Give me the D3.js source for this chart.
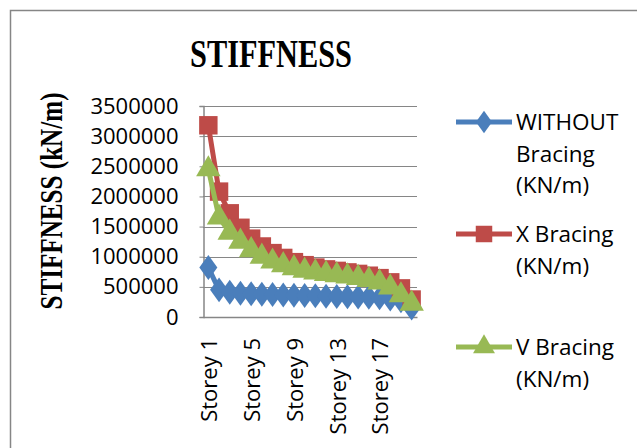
<!DOCTYPE html>
<html>
<head>
<meta charset="utf-8">
<script src="https://cdn.jsdelivr.net/npm/d3@7"></script>
<style>
  body { margin: 0; background: #fff; }
  svg { display: block; }
</style>
</head>
<body>
<svg id="chart"></svg>
<script>
const storeys = d3.range(1, 21).map(i => "Storey " + i);
const withoutBracing = [820000, 450000, 410000, 395000, 385000, 378000, 372000, 366000, 361000, 356000,
    351000, 346000, 341000, 336000, 331000, 326000, 320000, 300000, 270000, 150000];
const xBracing = [3180000, 2080000, 1720000, 1480000, 1300000, 1170000, 1060000, 980000, 910000, 860000,
    820000, 790000, 765000, 740000, 715000, 685000, 645000, 575000, 475000, 290000];
const vBracing = [2450000, 1650000, 1400000, 1250000, 1110000, 1000000, 920000, 860000, 810000, 770000,
    740000, 715000, 695000, 672000, 648000, 615000, 572000, 490000, 360000, 220000];
const yTicks = [0, 500000, 1000000, 1500000, 2000000, 2500000, 3000000, 3500000];
const seriesNames = ["WITHOUT Bracing (KN/m)", "X Bracing (KN/m)", "V Bracing (KN/m)"];

const [W, H] = [637, 448];
const plot = { left: 203, top: 106, right: 417, bottom: 317 };
const labelFont = "'Open Sans', sans-serif";
const titleFont = "'Liberation Serif', 'Times New Roman', serif";

const svg = d3.select("#chart").attr("width", W).attr("height", H);

// outer chart frame
svg.append("rect")
    .attr("x", 10.5).attr("y", 10.5)
    .attr("width", W + 20).attr("height", H + 20)
    .attr("fill", "#fff").attr("stroke", "#868686").attr("stroke-width", 1.5);

const xScale = d3.scaleBand().domain(storeys).range([plot.left, plot.right]);
const yScale = d3.scaleLinear().domain([0, 3500000]).range([plot.bottom, plot.top]);

// grid lines
svg.append("g")
    .selectAll("line")
    .data(yTicks.slice(1))
    .join("line")
    .attr("x1", plot.left).attr("x2", plot.right)
    .attr("y1", d => Math.round(yScale(d)) + 0.5).attr("y2", d => Math.round(yScale(d)) + 0.5)
    .attr("stroke", "#868686").attr("stroke-width", 1);

// y axis
const yAxis = d3.axisLeft(yScale).tickValues(yTicks).tickSize(4).tickPadding(4).tickFormat(d3.format("d"));
const yg = svg.append("g")
    .attr("transform", `translate(${plot.left + 0.5},0)`)
    .call(yAxis);
yg.select(".domain").attr("stroke", "#868686").attr("stroke-width", 1.5);
yg.selectAll(".tick line").attr("stroke", "#868686");
yg.selectAll(".tick text")
    .attr("font-family", labelFont)
    .attr("font-size", 22).attr("fill", "#000").attr("x", -25);

// x axis
const xAxis = d3.axisBottom(xScale)
    .tickValues(storeys.filter((d, i) => i % 4 === 0))
    .tickSize(0).tickPadding(0);
const xg = svg.append("g")
    .attr("transform", `translate(0,${plot.bottom})`)
    .call(xAxis);
xg.select(".domain").attr("stroke", "#868686").attr("stroke-width", 1.5);
xg.selectAll(".tick text")
    .attr("font-family", labelFont)
    .attr("font-size", 22).attr("fill", "#000")
    .attr("transform", "rotate(-90)")
    .attr("text-anchor", "end")
    .attr("x", -21).attr("y", 0).attr("dy", "0.4em");

// titles
svg.append("text")
    .attr("x", 271).attr("y", 67)
    .attr("text-anchor", "middle")
    .attr("font-family", titleFont)
    .attr("font-weight", "bold").attr("font-size", 40)
    .attr("textLength", 162).attr("lengthAdjust", "spacingAndGlyphs")
    .text("STIFFNESS");

svg.append("text")
    .attr("transform", "translate(62,201) rotate(-90)")
    .attr("text-anchor", "middle")
    .attr("font-family", titleFont)
    .attr("font-weight", "bold").attr("font-size", 31)
    .attr("textLength", 217).attr("lengthAdjust", "spacingAndGlyphs")
    .text("STIFFNESS (kN/m)");

const series = [
    { name: seriesNames[0], values: withoutBracing, color: "#4a7ebb", symbol: d3.symbolDiamond, size: 180 },
    { name: seriesNames[1], values: xBracing, color: "#be4b48", symbol: d3.symbolSquare, size: 340 },
    { name: seriesNames[2], values: vBracing, color: "#98b954", symbol: d3.symbolTriangle, size: 260 }
];

const cx = i => xScale(storeys[i]) + xScale.bandwidth() / 2;

const line = d3.line()
    .x((d, i) => cx(i))
    .y(d => yScale(d));

const stretch = s => s.symbol === d3.symbolDiamond ? " scale(1.25,1)" : "";

series.forEach(s => {
    const g = svg.append("g");
    g.append("path")
        .datum(s.values)
        .attr("fill", "none")
        .attr("stroke", s.color)
        .attr("stroke-width", 5)
        .attr("stroke-linejoin", "round")
        .attr("d", line);
    g.selectAll("path.m")
        .data(s.values)
        .join("path")
        .attr("class", "m")
        .attr("transform", (d, i) => `translate(${cx(i)},${yScale(d)})` + stretch(s))
        .attr("fill", s.color)
        .attr("d", d3.symbol().type(s.symbol).size(s.size)());
});

// legend
const legendRows = [
    { s: series[0], y: 122, lines: ["WITHOUT", "Bracing", "(KN/m)"] },
    { s: series[1], y: 234, lines: ["X Bracing", "(KN/m)"] },
    { s: series[2], y: 347, lines: ["V Bracing", "(KN/m)"] }
];
const lg = svg.append("g");
legendRows.forEach(r => {
    lg.append("line")
        .attr("x1", 456).attr("x2", 512)
        .attr("y1", r.y).attr("y2", r.y)
        .attr("stroke", r.s.color).attr("stroke-width", 5);
    lg.append("path")
        .attr("transform", `translate(484,${r.y})` + stretch(r.s))
        .attr("fill", r.s.color)
        .attr("d", d3.symbol().type(r.s.symbol).size(r.s.size * 0.8)());
    const t = lg.append("text")
        .attr("font-family", labelFont)
        .attr("font-size", 22.5).attr("fill", "#000");
    r.lines.forEach((l, i) => {
        t.append("tspan").attr("x", 516).attr("y", r.y + 8 + i * 31.5).text(l);
    });
});
</script>
</body>
</html>
